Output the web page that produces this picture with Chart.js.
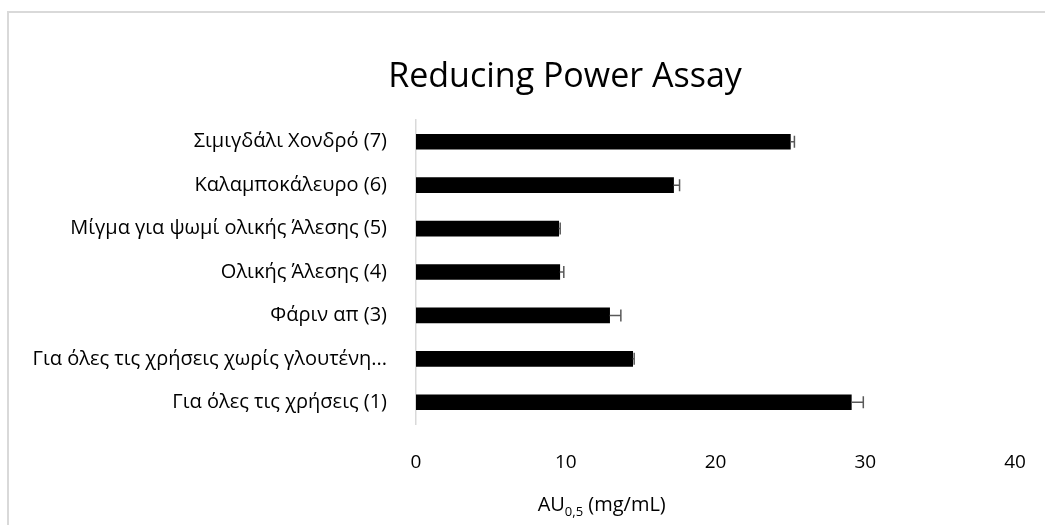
<!DOCTYPE html>
<html>
<head>
<meta charset="utf-8">
<script src="https://cdn.jsdelivr.net/npm/chart.js@4"></script>
<style>
html,body{margin:0;padding:0;background:#fff;overflow:hidden;}
#frame{position:absolute;left:7px;top:11px;width:1100px;height:600px;border:2px solid #d9d9d9;}
#wrap{position:absolute;left:0;top:0;width:1045px;height:525px;}
</style>
</head>
<body>
<div id="frame"></div>
<div id="wrap"><canvas id="assayChart"></canvas></div>
<script>

const samples = [
"Για όλες τις χρήσεις (1)",
"Για όλες τις χρήσεις χωρίς γλουτένη...",
"Φάριν απ (3)",
"Ολικής Άλεσης (4)",
"Μίγμα για ψωμί ολικής Άλεσης (5)",
"Καλαμποκάλευρο (6)",
"Σιμιγδάλι Χονδρό (7)"
];

const au05 = [29.07, 14.47, 12.93, 9.6, 9.53, 17.2, 25.0];

const au05Err = [0.8, 0.1, 0.75, 0.27, 0.1, 0.4, 0.27];

const xTicks = [0, 10, 20, 30, 40];

const chartTitle = "Reducing Power Assay";

const FONT = "'Open Sans', 'Noto Sans', sans-serif";

// error bars, plus side only (minus side is hidden in the black bar)
const errorBars = {
id:"errorBars",
afterDatasetsDraw(chart){
const ctx = chart.ctx;
const x = chart.scales.x;
const meta = chart.getDatasetMeta(0);
ctx.save();
ctx.strokeStyle = "#595959";
ctx.lineWidth = 1.5;
meta.data.forEach((bar,i)=>{
const x0 = x.getPixelForValue(au05[i]);
const x1 = x.getPixelForValue(au05[i]+au05Err[i]);
const y = bar.y;
ctx.beginPath();
ctx.moveTo(x0,y);
ctx.lineTo(x1,y);
ctx.moveTo(x1,y-6);
ctx.lineTo(x1,y+6);
ctx.stroke();
});
ctx.restore();
}
};

// title and x axis title (with subscript), placed like the excel original
const texts = {
id:"texts",
afterDraw(chart){
const ctx = chart.ctx;
const a = chart.chartArea;
ctx.save();
ctx.fillStyle = "#000";
ctx.textBaseline = "middle";

ctx.font = "34px "+FONT;
ctx.textAlign = "center";
ctx.fillText(chartTitle,565,77);

const cx = a.left + (a.right-a.left)*0.31;
const cy = 505;
const big = "20px "+FONT;
const small = "13px "+FONT;
ctx.font = big;
const w1 = ctx.measureText("AU").width;
const w3 = ctx.measureText(" (mg/mL)").width;
ctx.font = small;
const w2 = ctx.measureText("0,5").width;
let px = cx-(w1+w2+w3)/2;
ctx.textAlign = "left";
ctx.font = big;
ctx.fillText("AU",px,cy);
px += w1;
ctx.font = small;
ctx.fillText("0,5",px,cy+7);
px += w2;
ctx.font = big;
ctx.fillText(" (mg/mL)",px,cy);
ctx.restore();
}
};

new Chart(document.getElementById("assayChart"),{

type:"bar",

data:{
labels:samples,
datasets:[
{
label:"AU0,5",
data:au05,
backgroundColor:"#000000",
barThickness:15
}
]
},

options:{
indexAxis:"y",
responsive:true,
maintainAspectRatio:false,
animation:false,
layout:{
padding:{left:0,right:30,top:120,bottom:0}
},
plugins:{
legend:{display:false},
tooltip:{enabled:false},
title:{display:false}
},
scales:{
x:{
min:0,
max:40,
afterBuildTicks(axis){
axis.ticks = xTicks.map(v=>({value:v}));
},
afterFit(axis){
axis.height = 101;
axis.paddingLeft = 0;
axis.paddingRight = 0;
},
grid:{display:false,drawTicks:false},
border:{display:false},
ticks:{
color:"#000",
font:{family:FONT,size:19},
padding:27
}
},
y:{
reverse:true,
afterFit(axis){
axis.width = 416;
},
grid:{display:false},
border:{display:true,color:"#d9d9d9",width:1.5},
ticks:{
color:"#000",
font:{family:FONT,size:20},
padding:21
}
}
}
},

plugins:[errorBars,texts]

});

</script>
</body>
</html>
